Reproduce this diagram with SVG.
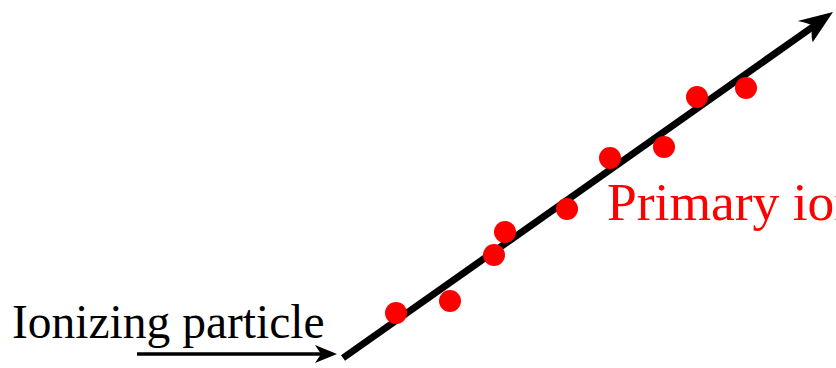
<svg xmlns="http://www.w3.org/2000/svg" width="836" height="368" viewBox="0 0 836 368">
<style>
.lbl{font-family:"Liberation Serif","Times New Roman",serif}
.dot{fill:#ff0000}
.track{stroke:#000;fill:none;stroke-linecap:butt}
.head{fill:#000}
</style>
<rect width="836" height="368" fill="#fff"/>
<g id="connectors">
<line class="track" x1="343" y1="358" x2="814" y2="26" stroke-width="7"/>
<path class="head" d="M833,12 L797.7,21 Q808,23 813.4,25.8 Q810,33 812.7,42.2 Z"/>
<line class="track" x1="137" y1="354" x2="322" y2="354" stroke-width="3.5"/>
<path class="head" d="M337,354 L315,345 Q319,351 321,354 Q319,357 315,363 Z"/>
</g>
<g id="dots">
<circle class="dot" cx="396" cy="313" r="11"/>
<circle class="dot" cx="450" cy="301" r="11"/>
<circle class="dot" cx="494" cy="255" r="11"/>
<circle class="dot" cx="505" cy="232" r="11"/>
<circle class="dot" cx="567" cy="209" r="11"/>
<circle class="dot" cx="610" cy="158" r="11"/>
<circle class="dot" cx="664" cy="147" r="11"/>
<circle class="dot" cx="697" cy="97" r="11"/>
<circle class="dot" cx="746" cy="88" r="11"/>
</g>
<g id="label-particle">
<text class="lbl" x="12" y="338" font-size="47.5" fill="#000">Ionizing particle</text>
</g>
<g id="label-primary">
<text class="lbl" x="607" y="220" font-size="53.5" fill="#ff0000">Primary ionization</text>
</g>
</svg>
